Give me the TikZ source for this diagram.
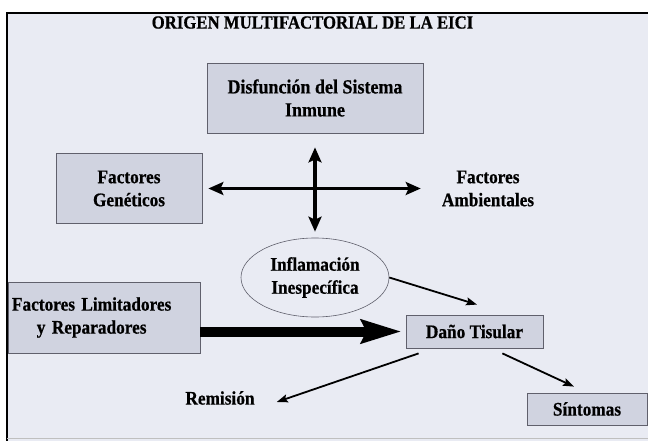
\documentclass[tikz,border=0pt]{standalone}
\usepackage{fontspec}
\setmainfont[FakeStretch=0.9, BoldFeatures={FakeBold=0.6}]{Liberation Serif}
\usetikzlibrary{arrows.meta,shapes.geometric}
\definecolor{paper}{RGB}{233,235,243}
\definecolor{boxfill}{RGB}{208,211,224}
\definecolor{boxline}{RGB}{96,96,108}
\newcommand\eicitext{\fontsize{19.2}{23}\selectfont\bfseries}
\newcommand\eicibig{\fontsize{20}{23}\selectfont\bfseries}
\newcommand\eicititle{\fontsize{18.6}{20}\selectfont\bfseries}
\tikzstyle{block} = [draw=boxline, fill=boxfill, rectangle, line width=0.8pt,
    align=center, font=\eicitext]
\tikzstyle{oval} = [draw=boxline, ellipse, line width=0.6pt, inner sep=0pt,
    minimum width=148pt, minimum height=79pt, align=center, font=\eicitext]
\tikzstyle{plain} = [inner sep=0pt, align=center, font=\eicitext]
\tikzstyle{heading} = [inner sep=0pt, font=\eicititle]
\tikzstyle{crossarrow} = [line width=3.5pt,
    {Stealth[length=15pt,width=13pt,inset=3pt]}-{Stealth[length=15pt,width=13pt,inset=3pt]}]
\tikzstyle{fatarrow} = [line width=10pt, -{Stealth[length=40pt,width=23pt,inset=5pt]}]
\tikzstyle{linkarrow} = [line width=1.8pt, -{Stealth[length=11pt,width=8pt,inset=2pt]}]

\begin{document}
\begin{tikzpicture}[auto, node distance=2cm, x=1pt, y=1pt]
    \useasboundingbox (0,0) rectangle (648,-441);
    \fill [paper] (7,-13) rectangle (648,-441);
    \draw [line width=2.5pt] (648,-13) -- (7,-13) -- (7,-441);
    \draw [line width=1.2pt, black!25] (7,-438.5) -- (648,-438.5);
    \node [heading] (title) at (312.5,-22.5) {ORIGEN MULTIFACTORIAL DE LA EICI};
    \node [block, font=\eicibig, minimum width=216pt, minimum height=70pt,
            below of=title, node distance=75.5pt, xshift=2.5pt] (disf) {Disfunción del Sistema\\ Inmune};
    \node [oval, below of=disf, node distance=179.5pt] (infl) {Inflamación\\ Inespecífica};
    \node [block, minimum width=146pt, minimum height=70pt,
            left of=disf, node distance=186pt, yshift=-90.5pt] (gen) {Factores\\ Genéticos};
    \node [plain, right of=gen, node distance=359pt] (amb) {Factores\\ Ambientales};
    \node [block, text width=184pt, inner xsep=4pt, align=left, minimum height=71pt,
            left of=infl, node distance=211pt, yshift=-40pt] (lim)
            {\begin{tabular}{@{}c@{}}Factores Limitadores\\ y Reparadores\end{tabular}};
    \node [block, minimum width=137pt, minimum height=33pt,
            right of=infl, node distance=159.5pt, yshift=-54pt] (dano) {Daño Tisular};
    \node [plain, left of=dano, node distance=254.5pt, yshift=-66.5pt] (rem) {Remisión};
    \node [block, minimum width=120pt, minimum height=32pt,
            right of=dano, node distance=112.5pt, yshift=-77.5pt] (sint) {Síntomas};
    \draw [crossarrow, shorten <=6pt, shorten >=21pt] (gen) -- (amb);
    \draw [crossarrow, shorten <=14pt, shorten >=6pt] (disf) -- (infl);
    \draw [fatarrow, shorten >=4pt] (lim.east |- dano) -- (dano);
    \draw [linkarrow] (infl.east) -- ([xshift=2.5pt,yshift=10pt]dano.north);
    \draw [linkarrow] ([xshift=13pt,yshift=-5pt]dano.south west) -- ([xshift=22pt,yshift=-4pt]rem.east);
    \draw [linkarrow] ([xshift=-41pt,yshift=-5pt]dano.south east) -- ([xshift=-13pt,yshift=6pt]sint.north);
\end{tikzpicture}
\end{document}
